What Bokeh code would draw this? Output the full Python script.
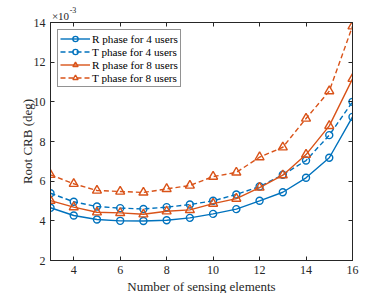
from bokeh.plotting import figure
from bokeh.models import Range1d, FixedTicker, LinearAxis, Legend, LegendItem
from bokeh.embed import file_html
from bokeh.resources import INLINE

# data (values in units of 1e-3 deg)
n_elements = [3, 4, 5, 6, 7, 8, 9, 10, 11, 12, 13, 14, 15, 16]
r_phase_4 = [4.66, 4.27, 4.07, 4.00, 3.99, 4.03, 4.15, 4.35, 4.59, 5.01, 5.44, 6.17, 7.18, 9.24]
t_phase_4 = [5.39, 4.96, 4.72, 4.64, 4.60, 4.69, 4.82, 5.01, 5.33, 5.73, 6.32, 7.04, 8.32, 10.00]
r_phase_8 = [5.02, 4.69, 4.43, 4.40, 4.33, 4.48, 4.55, 4.87, 5.12, 5.68, 6.30, 7.34, 8.79, 11.16]
t_phase_8 = [6.32, 5.87, 5.53, 5.48, 5.43, 5.61, 5.78, 6.23, 6.44, 7.21, 7.71, 9.16, 10.54, 13.81]
labels = ["R phase for 4 users", "T phase for 4 users", "R phase for 8 users", "T phase for 8 users"]
x_ticks = [4, 6, 8, 10, 12, 14, 16]
y_ticks = [2, 4, 6, 8, 10, 12, 14]
scale_text = "×10"
scale_exp = "-3"

FONT = "Liberation Serif"
AX = "#262626"
BLUE = "#0072BD"
ORANGE = "#D95319"

p = figure(width=374, height=285, output_backend="svg", toolbar_location=None,
           x_range=Range1d(3, 16), y_range=Range1d(2, 14),
           frame_width=302, frame_height=238,
           min_border_left=50, min_border_top=22, min_border_right=29, min_border_bottom=32)
p.grid.visible = False
p.outline_line_color = AX
p.outline_line_width = 1
p.background_fill_color = "white"
p.border_fill_color = "white"

def style_axis(ax, show_labels=True):
    ax.axis_line_color = AX
    ax.major_tick_line_color = AX
    ax.major_tick_in = 4
    ax.major_tick_out = 0
    ax.minor_tick_line_color = None
    ax.major_label_text_font = FONT
    ax.major_label_text_font_size = "12px"
    ax.major_label_text_color = AX
    ax.axis_label_text_font = FONT
    ax.axis_label_text_font_size = "13px"
    ax.axis_label_text_font_style = "normal"
    ax.axis_label_text_color = AX
    if not show_labels:
        ax.major_label_text_font_size = "0px"
        ax.major_label_text_color = None
        ax.major_label_standoff = 0

p.xaxis.ticker = FixedTicker(ticks=x_ticks)
p.yaxis.ticker = FixedTicker(ticks=y_ticks)
p.xaxis.axis_label = "Number of sensing elements"
p.yaxis.axis_label = "Root CRB (deg)"
p.xaxis.axis_label_standoff = 2
p.yaxis.axis_label_standoff = -4
style_axis(p.xaxis[0])
style_axis(p.yaxis[0])

top = LinearAxis(ticker=FixedTicker(ticks=x_ticks))
style_axis(top, False)
p.add_layout(top, "above")
right = LinearAxis(ticker=FixedTicker(ticks=y_ticks))
style_axis(right, False)
p.add_layout(right, "right")

# exponent marker "×10^-3" above the top-left corner, drawn as label-only axes
def label_axis(pos, text, size, standoff):
    ax = LinearAxis(ticker=FixedTicker(ticks=[pos]), major_label_overrides={pos: text})
    ax.axis_line_color = None
    ax.major_tick_line_color = None
    ax.minor_tick_line_color = None
    ax.major_tick_in = 0
    ax.major_tick_out = 0
    ax.major_label_standoff = standoff
    ax.major_label_text_font = FONT
    ax.major_label_text_font_size = size
    ax.major_label_text_color = AX
    return ax

p.add_layout(label_axis(3.43, scale_text, "11px", 1), "above")
p.add_layout(label_axis(3.97, scale_exp, "8px", -6), "above")

items = []
specs = [(r_phase_4, BLUE, "solid", "circle"),
         (t_phase_4, BLUE, "5 3", "circle"),
         (r_phase_8, ORANGE, "solid", "triangle"),
         (t_phase_8, ORANGE, "5 3", "triangle")]
for (ys, col, dash, mk), lab in zip(specs, labels):
    l = p.line(n_elements, ys, line_color=col, line_width=1.4, line_dash=dash)
    if mk == "circle":
        s = p.scatter(n_elements, ys, marker="circle", size=7, fill_color="white", fill_alpha=0,
                      line_color=col, line_width=1.4)
    else:
        s = p.scatter(n_elements, ys, marker="triangle", size=9, fill_color="white", fill_alpha=0,
                      line_color=col, line_width=1.4)
    items.append(LegendItem(label=lab, renderers=[l, s]))

leg = Legend(items=items, location="top_left")
leg.margin = 7
leg.padding = 2
leg.spacing = 0
leg.glyph_height = 13
leg.glyph_width = 30
leg.label_height = 13
leg.label_standoff = 2
leg.label_text_font = FONT
leg.label_text_font_size = "11.2px"
leg.label_text_line_height = 1.0
leg.label_text_color = "black"
leg.border_line_color = AX
leg.border_line_width = 1
leg.background_fill_color = "white"
p.add_layout(leg)

open("out.html", "w").write(file_html(p, INLINE))
